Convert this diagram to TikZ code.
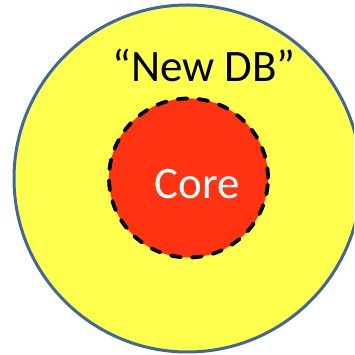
\documentclass[tikz,border=0pt]{standalone}
\usepackage{fontspec}
\setmainfont{Carlito}
\definecolor{dbyellow}{HTML}{FFFF4D}
\definecolor{corered}{HTML}{FF3311}
\definecolor{rimblue}{HTML}{41679A}
\tikzset{
  outerdisc/.style={circle, fill=dbyellow, draw=rimblue, line width=3pt, minimum size=347pt, inner sep=0pt},
  coredisc/.style={circle, fill=corered, draw=black, line width=3.8pt, line cap=round, dash pattern=on 10pt off 11pt, minimum size=159pt, inner sep=0pt},
  bigtext/.style={font=\fontsize{45}{50}\selectfont, inner sep=0pt}
}
\begin{document}
\begin{tikzpicture}[x=1pt,y=1pt]
\useasboundingbox (0,0) rectangle (354,355);
\clip (0,0) rectangle (354,355);
\node[outerdisc] (db) at (187.5,176.5) {};
\node[coredisc] (core) at (188.5,177) {};
\node[bigtext, text=white, anchor=base] (corelabel) at (197,156) {Core};
\node[bigtext, text=black, anchor=base] (dblabel) at (204,273) {“New DB”};
\end{tikzpicture}
\end{document}
